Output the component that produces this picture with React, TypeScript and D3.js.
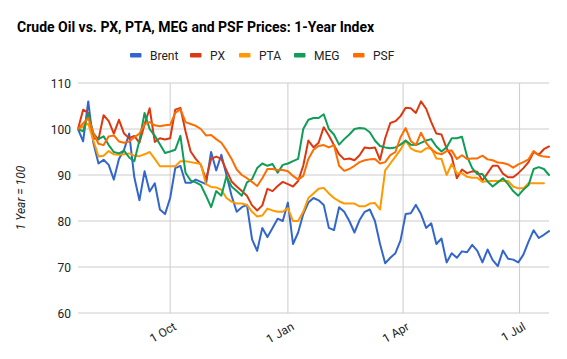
import * as d3 from 'd3';

// one point every 4 days, 21 Jul 2022 .. 24 Jul 2023
const startDate = new Date(2022, 6, 21);
const endDate = new Date(2023, 6, 24);
const dates = d3.timeDay.range(startDate, d3.timeDay.offset(endDate, 1), 4);

const brent = [
  100, 97.3, 106, 97, 92.5, 93.3, 92.2, 89, 93.5, 95.5,
  99, 89.5, 84.5, 90.8, 86.4, 88.2, 82.5, 81.5, 85, 91.5,
  92, 88.3, 88.3, 89, 88.5, 88, 95, 91, 94.4, 90,
  85.5, 82, 83, 83.5, 76, 73.5, 78.5, 76.5, 78.5, 80.5,
  80, 84, 75, 77.5, 81.5, 84, 85, 84.5, 83.5, 78.5,
  78, 83, 82, 80, 77.5, 80.2, 82, 82.5, 80, 75,
  70.8, 72, 73, 75.8, 81.5, 81.7, 83.5, 81.5, 78.5, 79.5,
  75, 76.2, 71, 73, 72, 73.4, 73.2, 74.8, 73.5, 71,
  73.8, 71.5, 70.2, 73.6, 71.8, 71.6, 71, 72.7, 75.5, 78,
  76.3, 77, 77.8,
];

const px = [
  100, 104.2, 103.5, 98, 97.7, 103, 101.7, 99, 102, 99,
  98, 98.5, 97, 101, 104.5, 97.2, 98, 97.7, 98, 104.2,
  104.6, 99.5, 95.1, 93.5, 92.2, 89, 93.5, 94, 93.5, 91,
  88.6, 87.5, 86.5, 85.5, 83.4, 82.3, 83.4, 87, 86.5, 87.6,
  88.5, 88, 87.5, 88.7, 92, 97.5, 96, 97, 100.4, 98.6,
  96.5, 94.5, 93.4, 93.6, 93.2, 94.3, 96, 95.8, 96, 93.3,
  98, 101.3, 101.7, 102.8, 104.6, 104.5, 103.5, 106, 104.4, 101.5,
  99, 98.8, 95.8, 94, 89.3, 91.2, 90.4, 90.8, 90.7, 88.8,
  90.4, 92, 92, 90.3, 89.5, 89.5, 90.4, 91.5, 92.8, 95,
  94.4, 95.6, 96.2,
];

const pta = [
  100, 100.5, 101.2, 97.5, 94, 94.2, 95.2, 94.5, 94.4, 94.5,
  94.7, 94.2, 94.1, 94.5, 95, 93.5, 91.9, 91.9, 91.9, 91.9,
  93, 93, 92.8, 92.6, 92.4, 88, 87.4, 87.3, 86.8, 85,
  84.2, 83.8, 83.8, 83.5, 82, 81, 81.2, 82.7, 82.3, 82,
  82, 82.8, 80, 80, 82, 85, 86, 87, 87.2, 86,
  85, 84.3, 83.8, 83.8, 83.8, 83.2, 83.2, 83.8, 83.9, 82.5,
  91, 92.5, 94, 95.5, 97.5, 95.8, 95.2, 95, 95.8, 95.8,
  93.6, 93.5, 90, 92.4, 90.4, 90.4, 89.6, 89.4, 89.4, 88.5,
  88.7, 88.7, 88.7, 88.7, 88.7, 87.5, 87.1, 87.1, 88.2, 88.2,
  88.2, 88.2, null,
];

const meg = [
  100, 99.5, 103.3, 99, 97.8, 98.4, 96.5, 95, 94.7, 95.3,
  93.8, 93, 97.5, 103.5, 100, 98.5, 96.7, 94.8, 95.1, 95.5,
  98.5, 90.5, 88.8, 88.4, 87.8, 85.5, 83, 86.5, 85.5, 89.7,
  87.5, 86.5, 85.5, 88.4, 89.1, 91.5, 92.5, 92, 92.4, 90.5,
  92.2, 92.5, 93, 93.5, 100, 102, 102.4, 102.4, 103.2, 100,
  98.8, 96.6, 97.8, 98.8, 100, 100.2, 100.1, 99.3, 97.5, 96.3,
  96, 95.8, 96, 96.6, 97.5, 96.6, 96.5, 97, 97.5, 97.8,
  96.2, 95.1, 96, 98, 98, 98.3, 94, 91.5, 90.2, 90.2,
  88.6, 87.5, 88.4, 89.3, 88, 86.5, 85.5, 86.8, 87.8, 91.3,
  91.7, 91.3, 90,
];

const psf = [
  100, 101.2, 102.4, 99.2, 96.8, 96.5, 98.4, 98.6, 97.3, 97,
  97.3, 98.2, 99, 101, 101.5, 100.8, 100.6, 100.8, 100.9, 103.5,
  104.3, 101.5, 101.1, 100.7, 100, 98.6, 98.7, 97.8, 97, 95.4,
  93.5, 91.2, 90, 89.3, 88.5, 87.6, 89.3, 91.3, 91.3, 91.1,
  91.1, 90.8, 89.8, 89, 89.8, 93.5, 95.5, 96.3, 96.5, 96,
  96.5, 92, 90.9, 91.3, 92, 92.8, 93.2, 93.4, 93.5, 92.5,
  92.8, 94.3, 95, 98.2, 100.2, 97.4, 96.5, 99.2, 97, 95.6,
  94.8, 94.5, 95.2, 95.3, 93.5, 94.3, 93.5, 93.6, 93.6, 94.2,
  93.4, 93.2, 92.7, 92.6, 92.3, 91.6, 92.3, 92.8, 93.4, 95.2,
  94.3, 94, 93.9,
];

const seriesNames = ['Brent', 'PX', 'PTA', 'MEG', 'PSF'];
const seriesValues = [brent, px, pta, meg, psf];
const seriesColors = ['#3366cc', '#dc3912', '#ff9900', '#109d58', '#ff6d01'];

const yTicks = [60, 70, 80, 90, 100, 110];
const xTicks = [new Date(2022, 9, 1), new Date(2023, 0, 1), new Date(2023, 3, 1), new Date(2023, 6, 1)];
const xTickLabels = ['1 Oct', '1 Jan', '1 Apr', '1 Jul'];

const title = 'Crude Oil vs. PX, PTA, MEG and PSF Prices: 1-Year Index';
const yTitle = '1 Year = 100';

const W = 567;
const H = 359;
const margin = { left: 78, right: 18, top: 83, bottom: 46 };
const legendX = [130, 190, 239, 294, 353];
const font = 'Roboto, Arial, sans-serif';

export default function App() {
  const x = d3.scaleTime()
    .domain([startDate, endDate])
    .range([margin.left, W - margin.right]);
  const y = d3.scaleLinear()
    .domain([60, 110])
    .range([H - margin.bottom, margin.top]);

  const line = d3.line<number | null>()
    .defined(d => d != null)
    .x((_, i) => x(dates[i]))
    .y(d => y(d as number));

  return (
    <svg width={W} height={H} style={{ position: 'absolute', left: 0, top: 0, background: '#fff' }}
      fontFamily={font}>
      <rect width={W} height={H} fill="#fff" />
      <text x={17} y={32} fontSize={14} fontWeight="bold" fill="#000">{title}</text>

      {seriesNames.map((name, i) => (
        <g key={name}>
          <rect x={legendX[i]} y={53} width={11.5} height={4.5} rx={1} fill={seriesColors[i]} />
          <text x={legendX[i] + 20} y={59.5} fontSize={12} fill="#222">{name}</text>
        </g>
      ))}

      {yTicks.map(t => (
        <g key={t}>
          <line x1={margin.left} x2={W - margin.right} y1={y(t)} y2={y(t)} stroke="#cccccc" strokeWidth={1} />
          <text x={71} y={y(t) + 4.5} fontSize={12} textAnchor="end" fill="#222">{t}</text>
        </g>
      ))}

      {xTicks.map((t, i) => (
        <g key={xTickLabels[i]}>
          <line x1={x(t)} x2={x(t)} y1={margin.top} y2={H - margin.bottom} stroke="#cccccc" strokeWidth={1} />
          <text transform={`translate(${x(t) + 7},${H - margin.bottom + 16}) rotate(-30)`}
            fontSize={12} textAnchor="end" fill="#222">{xTickLabels[i]}</text>
        </g>
      ))}

      <text transform={`translate(25,${(margin.top + H - margin.bottom) / 2}) rotate(-90)`}
        fontSize={12} fontStyle="italic" textAnchor="middle" fill="#222">{yTitle}</text>

      {seriesValues.map((vals, i) => (
        <path key={seriesNames[i]} d={line(vals) || ''} fill="none" stroke={seriesColors[i]}
          strokeWidth={2} strokeLinejoin="round" strokeLinecap="round" />
      ))}
    </svg>
  );
}
